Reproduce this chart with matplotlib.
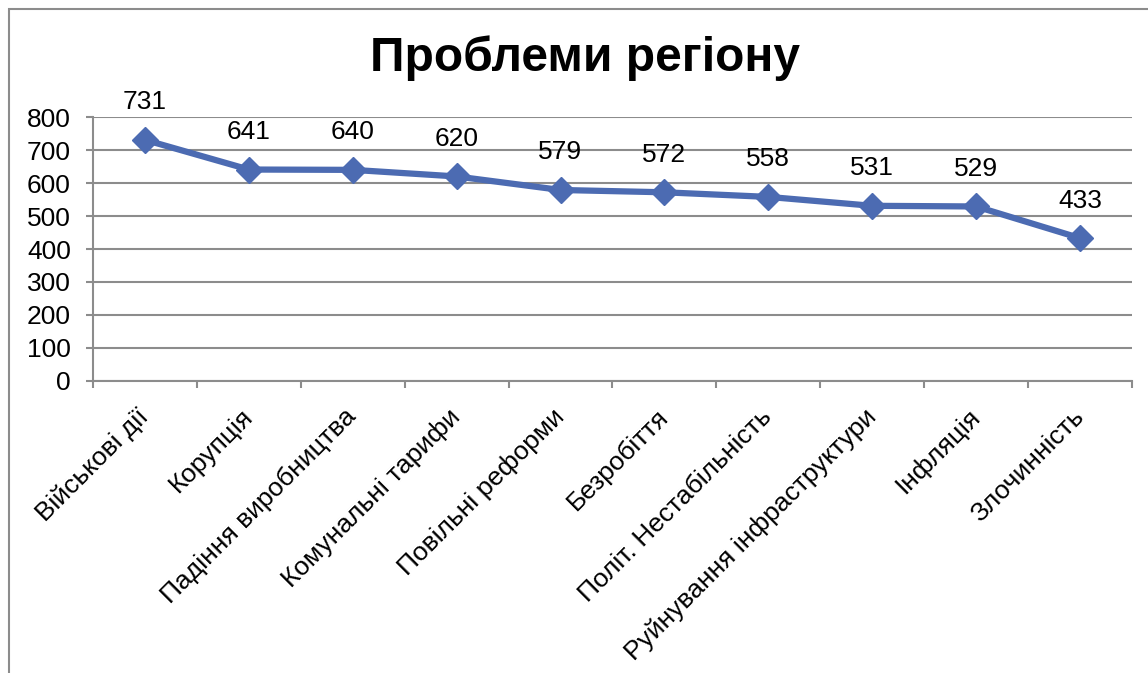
#! /usr/bin/env python3

import matplotlib

matplotlib.use("Agg")
import matplotlib.pyplot as plt
from matplotlib.patches import Rectangle

categories = [
    "Військові дії",
    "Корупція",
    "Падіння виробництва",
    "Комунальні тарифи",
    "Повільні реформи",
    "Безробіття",
    "Політ. Нестабільність",
    "Руйнування інфраструктури",
    "Інфляція",
    "Злочинність",
]
values = [731, 641, 640, 620, 579, 572, 558, 531, 529, 433]
yticks = [0, 100, 200, 300, 400, 500, 600, 700, 800]

LINE = "#4C6BB2"
GRID = "#8C8C8C"
FS = 19


def main():
    plt.rcParams["font.family"] = ["Liberation Sans", "DejaVu Sans"]

    fig = plt.figure(figsize=(11.48, 6.73), dpi=100)
    ax = fig.add_axes([0.081, 0.434, 0.905, 0.392])

    # outer chart frame (only left/top visible in the crop)
    fig.patches.append(Rectangle((9 / 1148, -0.1), 1.2, 1.1 - 9 / 673,
                                 transform=fig.transFigure, fill=False,
                                 edgecolor=GRID, linewidth=1.5))

    x = list(range(len(categories)))
    ax.plot(x, values, color=LINE, linewidth=4.5, marker="D",
            markersize=13, zorder=3, clip_on=False)

    for xi, v in zip(x, values):
        ax.annotate(str(v), (xi, v), xytext=(0, 27), textcoords="offset points",
                    ha="center", va="center", fontsize=FS, color="black")

    ax.set_xlim(-0.5, len(categories) - 0.5)
    ax.set_ylim(0, 800)
    ax.set_yticks(yticks)
    ax.tick_params(axis="y", labelsize=FS, length=5, width=1.5,
                   color=GRID, pad=11)
    ax.yaxis.grid(True, color=GRID, linewidth=1.5)
    ax.set_axisbelow(True)

    ax.set_xticks(x)
    ax.set_xticklabels(categories, rotation=45, ha="right", va="center",
                       rotation_mode="anchor", fontsize=FS)
    ax.set_xticks([i - 0.5 for i in range(len(categories) + 1)], minor=True)
    ax.tick_params(axis="x", which="major", length=0, pad=23)
    ax.tick_params(axis="x", which="minor", length=5, width=1.5, color=GRID)

    for side in ("top", "right"):
        ax.spines[side].set_visible(False)
    for side in ("left", "bottom"):
        ax.spines[side].set_color(GRID)
        ax.spines[side].set_linewidth(1.5)

    fig.text(0.51, 1 - 58 / 673, "Проблеми регіону", ha="center", va="center",
             fontsize=34.5, fontweight="bold")

    fig.savefig("out.png", dpi=100)


if __name__ == "__main__":
    main()
